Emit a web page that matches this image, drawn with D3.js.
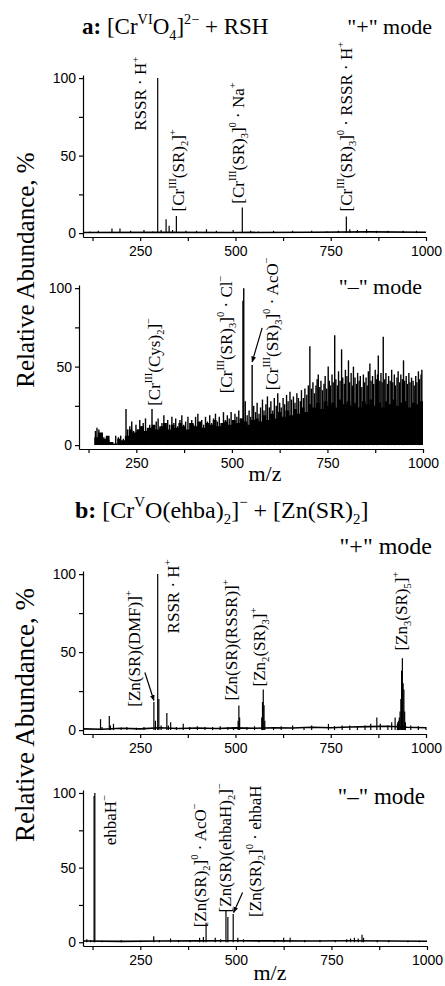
<!DOCTYPE html>
<html>
<head>
<meta charset="utf-8">
<script src="https://cdn.jsdelivr.net/npm/d3@7"></script>
<style>
  body { margin: 0; background: #fff; }
  svg { display: block; }
  .tick text { font-family: "Liberation Sans", Arial, sans-serif; font-size: 14px; fill: #000; }
  .tick line, .domain { stroke: #000; stroke-width: 1.2; }
  .serif { font-family: "Liberation Serif", "Times New Roman", serif; fill: #000; white-space: pre; }
</style>
</head>
<body>
<div id="chart"></div>
<script>
// ---- axis ticks ----
const mzTicks = [125, 250, 375, 500, 625, 750, 875, 1000];
const abundanceTicks = [0, 25, 50, 75, 100];

// ---- panel a, "+" mode ----
const aPosPeaks = [[296, 100], [318, 9], [326, 4.7], [345, 11], [518, 16.5], [791, 10.7]];
const aPosMinor = [[118, 1], [140, 1.5], [176, 3], [197, 3], [225, 1.5], [260, 2], [283, 1], [305, 2],
  [335, 2], [370, 1.5], [398, 1.5], [424, 2.5], [450, 1.5], [494, 2], [540, 1.5], [560, 1], [600, 1.5],
  [650, 1.5], [700, 1.5], [740, 1], [770, 1.5], [800, 2.5], [820, 2], [844, 2.5], [870, 1.5], [900, 1.5],
  [940, 1.5], [975, 1.5]];
const aPosBaseline = [[102, 0.4], [300, 0.5], [500, 0.4], [700, 0.6], [850, 0.8], [1000, 0.6]];

// ---- panel a, "-" mode (noisy) ----
const aNegFloor = [[140, 5], [150, 8], [160, 4], [170, 6], [180, 2], [190, 1], [200, 4], [210, 3], [220, 6],
  [230, 10], [240, 8], [250, 10], [260, 12], [270, 9], [280, 11], [290, 13], [300, 10], [310, 12], [320, 14],
  [330, 10], [340, 13], [350, 11], [360, 14], [370, 12], [380, 10], [390, 14], [400, 12], [410, 15], [420, 11],
  [430, 14], [440, 13], [450, 16], [460, 12], [470, 14], [480, 15], [490, 13], [500, 16], [510, 14],
  [520, 17], [530, 15], [540, 13], [550, 16],
  [560, 17], [570, 15], [580, 19], [590, 16], [600, 20], [610, 17], [620, 21], [630, 18], [640, 22],
  [650, 19], [660, 23], [670, 20], [680, 24], [690, 21], [700, 26], [710, 24], [720, 27], [730, 23],
  [740, 28], [750, 25], [760, 27], [770, 24], [780, 29], [790, 26], [800, 28], [810, 25], [820, 27],
  [830, 24], [840, 28], [850, 26], [860, 29], [870, 25], [880, 27], [890, 24], [900, 28], [910, 26],
  [920, 29], [930, 25], [940, 27], [950, 28], [960, 24], [970, 27], [980, 26], [990, 28], [1000, 25]];
const aNegSpikes = [[143, 9], [147, 11], [152, 10], [156, 7], [161, 8], [165, 5], [172, 4], [178, 3],
  [186, 2], [196, 6], [203, 5], [209, 6], [216, 4], [223, 23], [227, 10],
  [233, 12], [238, 15], [243, 9], [249, 13], [254, 10], [259, 16], [263, 12], [268, 14], [274, 17],
  [279, 11], [285, 13], [291, 23], [296, 12], [302, 15], [307, 17], [312, 11], [317, 14], [322, 19],
  [327, 12], [332, 16], [337, 13], [343, 18], [348, 14], [353, 17], [358, 12], [364, 16], [369, 19],
  [374, 13], [379, 15], [385, 18], [390, 14], [395, 16], [400, 13], [405, 18], [411, 20], [416, 14],
  [421, 16], [426, 13], [431, 18], [436, 15], [442, 19], [447, 14], [452, 17], [457, 20], [462, 15],
  [467, 18], [473, 14], [478, 21], [483, 16], [488, 19], [493, 17], [498, 21], [503, 15], [508, 20],
  [513, 18], [518, 22], [523, 17], [529, 92], [531, 100], [535, 28], [540, 19], [545, 22], [549, 18],
  [553, 51], [557, 25],
  [562, 21], [566, 27], [571, 20], [575, 24], [580, 29], [584, 22], [589, 26], [593, 31], [598, 24],
  [602, 28], [607, 22], [611, 30], [616, 25], [620, 33], [625, 27], [629, 24], [634, 30], [638, 26],
  [643, 32], [647, 28], [652, 34], [656, 29], [661, 31], [665, 27], [670, 33], [674, 30], [679, 28],
  [682, 35], [687, 30], [691, 36], [696, 32], [700, 38],
  [704, 63], [708, 36], [712, 40], [716, 33], [720, 38], [723, 42], [726, 45], [730, 37], [733, 41],
  [737, 35], [741, 39], [744, 44], [748, 36], [752, 50], [755, 41], [758, 38], [762, 45], [765, 40],
  [769, 70], [772, 42], [776, 38], [779, 47], [783, 41], [787, 61], [790, 43], [794, 39], [797, 48],
  [801, 44], [805, 54], [808, 40], [812, 46], [815, 38], [818, 50], [822, 43], [826, 39], [829, 46],
  [833, 41], [836, 44], [840, 37], [844, 45], [847, 40], [851, 43], [854, 38], [857, 47], [861, 52],
  [864, 41], [868, 44], [871, 39], [875, 48], [878, 42], [881, 45], [883, 57], [887, 41], [890, 46],
  [893, 40], [896, 69], [900, 42], [903, 46], [907, 39], [910, 44], [914, 41], [918, 48], [921, 40],
  [925, 45], [928, 38], [932, 43], [935, 47], [939, 40], [942, 45], [946, 42], [949, 54], [952, 41],
  [956, 44], [959, 39], [963, 46], [966, 40], [970, 43], [974, 41], [977, 38], [981, 44], [984, 40],
  [988, 47], [991, 42], [995, 45], [997, 48]];

// ---- panel b, "+" mode ----
const bPosPeaks = [[286, 18], [296, 100], [299, 20], [507, 6], [509, 15.7], [511, 8],
  [569, 8], [571, 18], [573, 26], [575, 16], [577, 6],
  [926, 5], [928, 6], [930, 8], [932, 12], [934, 20], [936, 38], [938, 46], [940, 30], [942, 26],
  [944, 12], [946, 5]];
const bPosMinor = [[146, 7], [150, 2], [169, 9], [172, 3], [180, 4], [200, 1.5], [215, 2], [240, 1.5],
  [260, 2], [290, 6], [305, 3], [320, 11], [324, 3], [330, 5], [345, 2], [363, 4], [380, 2], [400, 2.5],
  [420, 2], [440, 2], [460, 2.5], [480, 2], [495, 2], [530, 2], [550, 2.5], [600, 2], [620, 2.5],
  [650, 3], [680, 2], [700, 3], [744, 4], [760, 2.5], [780, 3], [800, 3], [820, 2.5], [840, 3], [855, 4],
  [871, 8], [880, 4], [900, 3], [910, 5], [919, 8], [925, 4], [960, 3], [980, 2.5], [1000, 2]];
const bPosBaseline = [[102, 0.8], [150, 0.5], [200, 1.2], [250, 0.8], [300, 1.5], [350, 1], [400, 1.3],
  [450, 1], [500, 1.4], [550, 1.2], [600, 1.5], [650, 1.3], [700, 1.8], [750, 1.5], [800, 2],
  [850, 2.2], [900, 2.5], [950, 1.8], [1000, 1.5]];

// ---- panel b, "-" mode ----
const bNegPeaks = [[129, 98], [131, 100], [422, 13], [474, 21], [479, 17], [493, 19]];
const bNegMinor = [[110, 2], [120, 1.5], [150, 1], [200, 1.5], [250, 1], [285, 4], [300, 1.5], [329, 2.5],
  [350, 1.5], [380, 1.5], [405, 3], [415, 3.5], [446, 3], [460, 2], [505, 3], [520, 2], [560, 1.5],
  [600, 1.5], [625, 3], [642, 3], [680, 1.5], [720, 1.5], [760, 1.5], [790, 2], [800, 2.5], [810, 3],
  [820, 2.5], [830, 5], [834, 3], [870, 1.5], [900, 1.5], [950, 1], [980, 1]];
const bNegBaseline = [[102, 0.8], [200, 0.6], [300, 0.8], [400, 0.9], [500, 1], [600, 0.9], [700, 0.8],
  [800, 1], [900, 0.8], [1000, 0.7]];

// ---- peak annotations: text, anchor m/z, bottom of text in % ----
const aPosLabels = [
  { text: 'RSSR · H^{+}', mz: 266, v: 66 },
  { text: '[Cr^{III}(SR)_{2}]^{+}', mz: 364, v: 14 },
  { text: '[Cr^{III}(SR)_{3}]^{0} · Na^{+}', mz: 522, v: 19 },
  { text: '[Cr^{III}(SR)_{3}]^{0} · RSSR · H^{+}', mz: 805, v: 14 }
];
const aNegLabels = [
  { text: '[Cr^{III}(Cys)_{2}]^{−}', mz: 311, v: 25 },
  { text: '[Cr^{III}(SR)_{3}]^{0} · Cl^{−}', mz: 499, v: 33 },
  { text: '[Cr^{III}(SR)_{3}]^{0} · AcO^{−}', mz: 620, v: 35 }
];
const bPosLabels = [
  { text: '[Zn(SR)(DMF)]^{+}', mz: 249, v: 15 },
  { text: 'RSSR · H^{+}', mz: 351, v: 62 },
  { text: '[Zn(SR)(RSSR)]^{+}', mz: 503, v: 19 },
  { text: '[Zn_{2}(SR)_{3}]^{+}', mz: 577, v: 28 },
  { text: '[Zn_{3}(SR)_{5}]^{+}', mz: 949, v: 51 }
];
const bNegLabels = [
  { text: 'ehbaH^{−}', mz: 186, v: 65 },
  { text: '[Zn(SR)_{2}]^{0} · AcO^{−}', mz: 421, v: 10 },
  { text: '[Zn(SR)(ehbaH)_{2}]^{−}', mz: 486, v: 20 },
  { text: '[Zn(SR)_{2}]^{0} · ehbaH', mz: 565, v: 17 }
];

// arrows: target peak [m/z, %] and tail offset in px
const aNegArrows = [{ mz: 553, v: 53, dx: 10, dy: -34 }];
const bPosArrows = [{ mz: 286, v: 19, dx: -9, dy: -28 }];
const bNegArrows = [{ mz: 494, v: 20, dx: 9, dy: -20 }];

const W = 445, H = 986;
const svg = d3.select('#chart').append('svg').attr('width', W).attr('height', H);

const defs = svg.append('defs');
defs.append('marker')
  .attr('id', 'head').attr('viewBox', '0 0 10 10').attr('refX', 9).attr('refY', 5)
  .attr('markerWidth', 5).attr('markerHeight', 5).attr('orient', 'auto')
  .append('path').attr('d', 'M0,1 L10,5 L0,9 Z').attr('fill', '#000');

// small markup: ^{sup}, _{sub}
function richText(sel, str, size) {
  const re = /([\^_])\{([^}]*)\}/g;
  const parts = [];
  let last = 0, m;
  while ((m = re.exec(str))) {
    if (m.index > last) parts.push({ t: str.slice(last, m.index), k: 'n' });
    parts.push({ t: m[2], k: m[1] === '^' ? 'sup' : 'sub' });
    last = re.lastIndex;
  }
  if (last < str.length) parts.push({ t: str.slice(last), k: 'n' });
  let cur = 0;
  parts.forEach(p => {
    const off = p.k === 'sup' ? -0.45 * size : p.k === 'sub' ? 0.25 * size : 0;
    sel.append('tspan')
      .attr('dy', off - cur)
      .attr('font-size', p.k === 'n' ? size : size * 0.62)
      .text(p.t);
    cur = off;
  });
}

function drawPanel(cfg) {
  const x = d3.scaleLinear().domain([100, 1000]).range([cfg.left, cfg.right]);
  const y = d3.scaleLinear().domain([-2.5, 102]).range([cfg.bottom, cfg.top]);
  const g = svg.append('g');

  // filled noise floor (only for the noisy panel)
  if (cfg.floor) {
    g.append('path')
      .datum(cfg.floor)
      .attr('d', d3.area().curve(d3.curveStepAfter)
        .x(d => x(d[0])).y0(y(0)).y1(d => y(d[1])))
      .attr('fill', '#000');
  }

  if (cfg.baseline) {
    g.append('path')
      .datum(cfg.baseline)
      .attr('d', d3.line().x(d => x(d[0])).y(d => y(d[1])))
      .attr('fill', 'none').attr('stroke', '#000').attr('stroke-width', 1.6);
  }

  const sticks = (cfg.minor || []).concat(cfg.peaks || []);
  g.selectAll('line.stick')
    .data(sticks)
    .enter().append('line')
    .attr('class', 'stick')
    .attr('x1', d => x(d[0])).attr('x2', d => x(d[0]))
    .attr('y1', y(0)).attr('y2', d => y(d[1]))
    .attr('stroke', '#000').attr('stroke-width', cfg.stickWidth || 1.2);

  // axes
  g.append('g')
    .attr('transform', `translate(0,${cfg.bottom})`)
    .call(d3.axisBottom(x).tickValues(mzTicks).tickSizeInner(4).tickSizeOuter(0).tickPadding(5)
      .tickFormat(d => d % 250 === 0 ? d : ''));
  g.append('g')
    .attr('transform', `translate(${cfg.left},0)`)
    .call(d3.axisLeft(y).tickValues(abundanceTicks).tickSizeInner(4).tickSizeOuter(0).tickPadding(3)
      .tickFormat(d => d % 50 === 0 ? d : ''));

  // rotated peak labels
  cfg.labels.forEach(l => {
    const t = g.append('text')
      .attr('class', 'serif')
      .attr('transform', `translate(${x(l.mz)},${y(l.v)}) rotate(-90)`)
      .attr('font-size', cfg.labelSize);
    richText(t, l.text, cfg.labelSize);
  });

  (cfg.arrows || []).forEach(a => {
    const tx = x(a.mz), ty = y(a.v);
    g.append('line')
      .attr('x1', tx + a.dx).attr('y1', ty + a.dy)
      .attr('x2', tx).attr('y2', ty)
      .attr('stroke', '#000').attr('stroke-width', 1.2)
      .attr('marker-end', 'url(#head)');
  });

  // mode text
  g.append('text')
    .attr('class', 'serif')
    .attr('x', cfg.modeX).attr('y', cfg.modeY)
    .attr('text-anchor', 'end')
    .attr('font-size', cfg.modeSize)
    .text(cfg.mode);

  if (cfg.xTitleY) {
    g.append('text')
      .attr('class', 'serif')
      .attr('x', cfg.xTitleX).attr('y', cfg.xTitleY)
      .attr('text-anchor', 'middle')
      .attr('font-size', 22)
      .text('m/z');
  }
}

drawPanel({ left: 83, right: 426, top: 75, bottom: 237,
  peaks: aPosPeaks, minor: aPosMinor, baseline: aPosBaseline, labels: aPosLabels, labelSize: 17,
  mode: '"+" mode', modeX: 432, modeY: 34, modeSize: 22 });

drawPanel({ left: 79, right: 423, top: 285, bottom: 449,
  peaks: aNegSpikes, floor: aNegFloor, labels: aNegLabels, arrows: aNegArrows, labelSize: 17,
  stickWidth: 1.4,
  mode: '"–" mode', modeX: 422, modeY: 294, modeSize: 22, xTitleX: 265, xTitleY: 481 });

drawPanel({ left: 83, right: 426, top: 571, bottom: 734,
  peaks: bPosPeaks, minor: bPosMinor, baseline: bPosBaseline, labels: bPosLabels, arrows: bPosArrows,
  labelSize: 17,
  mode: '"+" mode', modeX: 432, modeY: 554, modeSize: 24 });

drawPanel({ left: 83, right: 427, top: 790, bottom: 946,
  peaks: bNegPeaks, minor: bNegMinor, baseline: bNegBaseline, labels: bNegLabels, arrows: bNegArrows,
  labelSize: 17,
  mode: '"–" mode', modeX: 425, modeY: 804, modeSize: 23, xTitleX: 270, xTitleY: 980 });

// titles
const titleA = svg.append('text').attr('class', 'serif').attr('x', 82).attr('y', 34).attr('font-size', 23);
titleA.append('tspan').attr('font-weight', 'bold').text('a: ');
richText(titleA, '[Cr^{VI}O_{4}]^{2−} + RSH', 23);

const titleB = svg.append('text').attr('class', 'serif').attr('x', 75).attr('y', 518).attr('font-size', 24);
titleB.append('tspan').attr('font-weight', 'bold').text('b: ');
richText(titleB, '[Cr^{V}O(ehba)_{2}]^{−} + [Zn(SR)_{2}]', 24);

// shared y titles
svg.append('text').attr('class', 'serif')
  .attr('transform', 'translate(34,270) rotate(-90)')
  .attr('text-anchor', 'middle').attr('font-size', 25)
  .text('Relative Abundance, %');
svg.append('text').attr('class', 'serif')
  .attr('transform', 'translate(34,715) rotate(-90)')
  .attr('text-anchor', 'middle').attr('font-size', 27)
  .text('Relative Abundance, %');
</script>
</body>
</html>
